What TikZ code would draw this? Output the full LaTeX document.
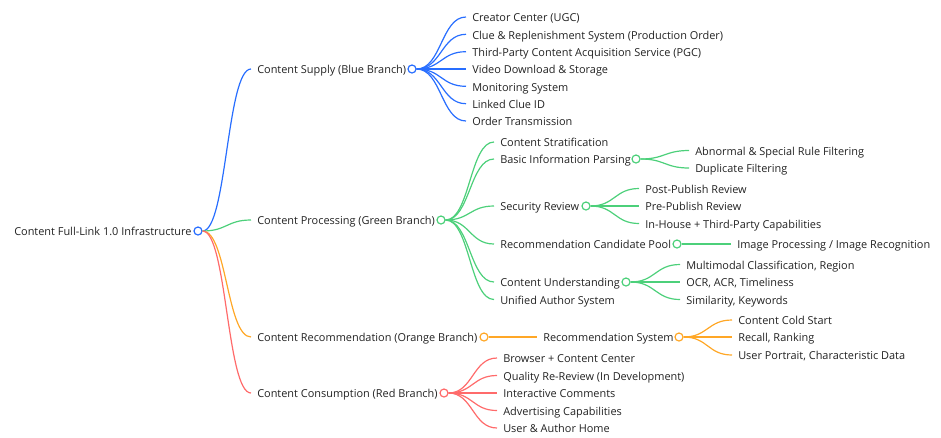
\documentclass[tikz,border=0pt]{standalone}
\usepackage{fontspec}
\setmainfont{Open Sans}
\usetikzlibrary{calc}
\definecolor{ink}{RGB}{34,34,34}
\definecolor{supblue}{RGB}{40,110,255}
\definecolor{procgreen}{RGB}{76,208,122}
\definecolor{recorange}{RGB}{255,167,38}
\definecolor{conred}{RGB}{255,107,107}
\begin{document}
\begin{tikzpicture}[x=0.75pt,y=-0.75pt,
    every node/.style={font=\fontsize{8.2pt}{10pt}\selectfont, text=ink},
    item/.style={anchor=west, inner xsep=4.5pt, inner ysep=0pt, text height=0.72em, text depth=0pt},
    knob/.style={circle, draw, fill=white, line width=0.9pt, minimum size=6pt, inner sep=0pt},
    link/.style={line width=0.9pt, to path={let \p1=(\tikztostart), \p2=(\tikztotarget) in
      .. controls ({(\x1+\x2)/2},\y1) and ({(\x1+\x2)/2},\y2) .. (\tikztotarget)}}]
  \useasboundingbox (0,0) rectangle (941,437);
  % root
  \node[item] (rt) at (8,231) {Content Full-Link 1.0 Infrastructure};
  % blue branch
  \node[item] (sup) at (251,69) {Content Supply (Blue Branch)};
  \node[item] (sup1) at (466,17) {Creator Center (UGC)};
  \node[item] (sup2) at (466,34.3) {Clue \& Replenishment System (Production Order)};
  \node[item] (sup3) at (466,51.7) {Third-Party Content Acquisition Service (PGC)};
  \node[item] (sup4) at (466,69) {Video Download \& Storage};
  \node[item] (sup5) at (466,86.3) {Monitoring System};
  \node[item] (sup6) at (466,103.7) {Linked Clue ID};
  \node[item] (sup7) at (466,121) {Order Transmission};
  % green branch
  \node[item] (proc) at (251,220) {Content Processing (Green Branch)};
  \node[item] (strat) at (494,142) {Content Stratification};
  \node[item] (parse) at (494,159) {Basic Information Parsing};
  \node[item] (parse1) at (689,150.5) {Abnormal \& Special Rule Filtering};
  \node[item] (parse2) at (689,168) {Duplicate Filtering};
  \node[item] (sec) at (494,206) {Security Review};
  \node[item] (sec1) at (639,188.5) {Post-Publish Review};
  \node[item] (sec2) at (639,206) {Pre-Publish Review};
  \node[item] (sec3) at (639,223.5) {In-House + Third-Party Capabilities};
  \node[item] (pool) at (494,244) {Recommendation Candidate Pool};
  \node[item] (pool1) at (731,244) {Image Processing / Image Recognition};
  \node[item] (und) at (494,282) {Content Understanding};
  \node[item] (und1) at (680,264.5) {Multimodal Classification, Region};
  \node[item] (und2) at (680,282) {OCR, ACR, Timeliness};
  \node[item] (und3) at (680,299.5) {Similarity, Keywords};
  \node[item] (auth) at (494,299.5) {Unified Author System};
  % orange branch
  \node[item] (rec) at (251,337) {Content Recommendation (Orange Branch)};
  \node[item] (rsys) at (537,337) {Recommendation System};
  \node[item] (rsys1) at (732,320) {Content Cold Start};
  \node[item] (rsys2) at (732,337) {Recall, Ranking};
  \node[item] (rsys3) at (732,355) {User Portrait, Characteristic Data};
  % red branch
  \node[item] (con) at (251,393) {Content Consumption (Red Branch)};
  \node[item] (con1) at (497,358) {Browser + Content Center};
  \node[item] (con2) at (497,375.5) {Quality Re-Review (In Development)};
  \node[item] (con3) at (497,393) {Interactive Comments};
  \node[item] (con4) at (497,410.5) {Advertising Capabilities};
  \node[item] (con5) at (497,428) {User \& Author Home};
  % fold markers
  \node[knob, draw=supblue] (rt-o) at (198,231) {};
  \node[knob, draw=supblue] (sup-o) at (412,69) {};
  \node[knob, draw=procgreen] (proc-o) at (441,220) {};
  \node[knob, draw=procgreen] (parse-o) at (636,159) {};
  \node[knob, draw=procgreen] (sec-o) at (586,206) {};
  \node[knob, draw=procgreen] (pool-o) at (677,244) {};
  \node[knob, draw=procgreen] (und-o) at (626,282) {};
  \node[knob, draw=recorange] (rec-o) at (484,337) {};
  \node[knob, draw=recorange] (rsys-o) at (679,337) {};
  \node[knob, draw=conred] (con-o) at (444,393) {};
  \begin{scope}[link, supblue]
    \draw (rt-o.east) to (sup.west);
    \draw (sup-o.east) to (sup1.west);
    \draw (sup-o.east) to (sup2.west);
    \draw (sup-o.east) to (sup3.west);
    \draw (sup-o.east) to (sup4.west);
    \draw (sup-o.east) to (sup5.west);
    \draw (sup-o.east) to (sup6.west);
    \draw (sup-o.east) to (sup7.west);
  \end{scope}
  \begin{scope}[link, procgreen]
    \draw (rt-o.east) to (proc.west);
    \draw (proc-o.east) to (strat.west);
    \draw (proc-o.east) to (parse.west);
    \draw (proc-o.east) to (sec.west);
    \draw (proc-o.east) to (pool.west);
    \draw (proc-o.east) to (und.west);
    \draw (proc-o.east) to (auth.west);
    \draw (parse-o.east) to (parse1.west);
    \draw (parse-o.east) to (parse2.west);
    \draw (sec-o.east) to (sec1.west);
    \draw (sec-o.east) to (sec2.west);
    \draw (sec-o.east) to (sec3.west);
    \draw (pool-o.east) to (pool1.west);
    \draw (und-o.east) to (und1.west);
    \draw (und-o.east) to (und2.west);
    \draw (und-o.east) to (und3.west);
  \end{scope}
  \begin{scope}[link, recorange]
    \draw (rt-o.east) to (rec.west);
    \draw (rec-o.east) to (rsys.west);
    \draw (rsys-o.east) to (rsys1.west);
    \draw (rsys-o.east) to (rsys2.west);
    \draw (rsys-o.east) to (rsys3.west);
  \end{scope}
  \begin{scope}[link, conred]
    \draw (rt-o.east) to (con.west);
    \draw (con-o.east) to (con1.west);
    \draw (con-o.east) to (con2.west);
    \draw (con-o.east) to (con3.west);
    \draw (con-o.east) to (con4.west);
    \draw (con-o.east) to (con5.west);
  \end{scope}
\end{tikzpicture}
\end{document}
